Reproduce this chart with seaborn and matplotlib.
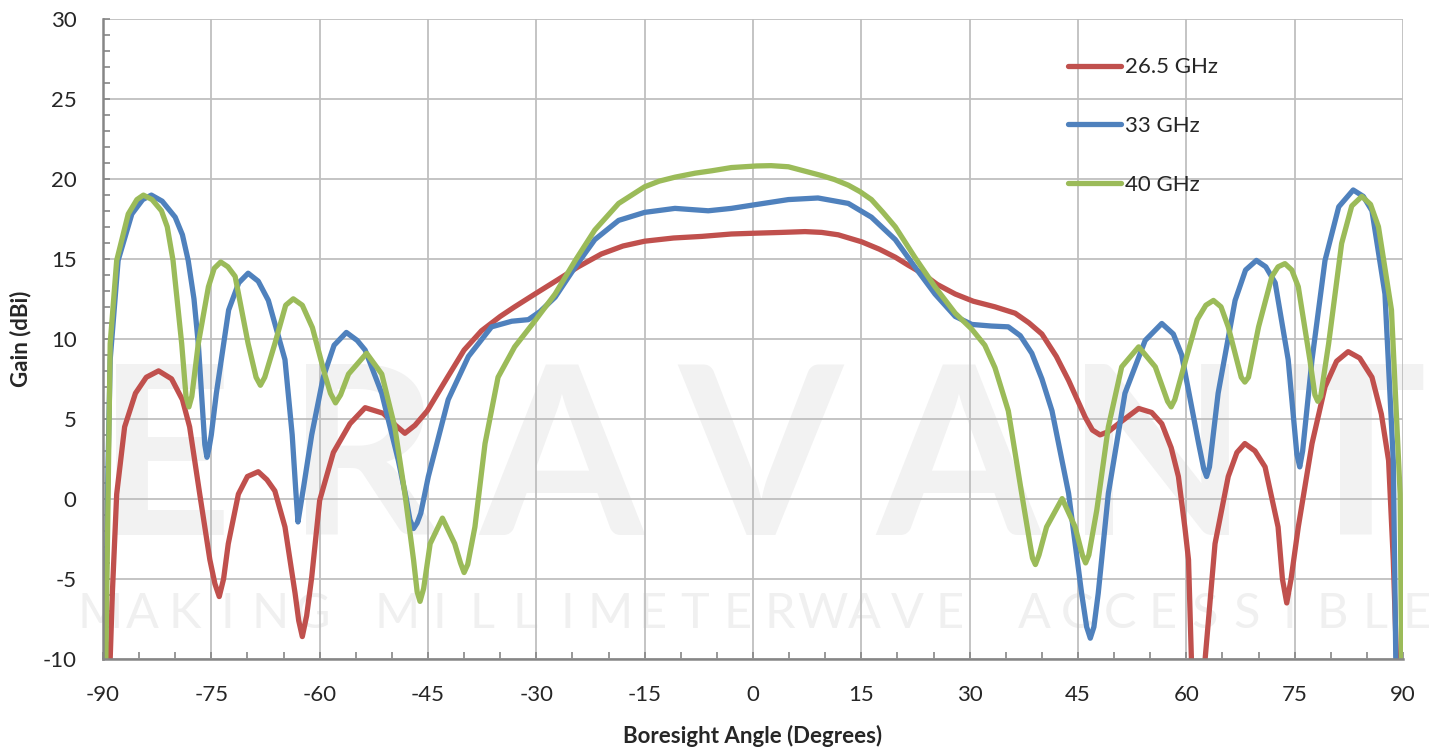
import numpy as np
import pandas as pd
import matplotlib
matplotlib.use('Agg')
import matplotlib.pyplot as plt
import seaborn as sns
from matplotlib.ticker import MultipleLocator

# Gain patterns (angle in degrees, gain in dBi)
angle_265 = [-90, -89.0, -88.7, -88.1, -87.0, -85.5, -84.0, -82.3, -80.5, -79.0, -78.0, -76.6,
             -75.2, -74.5, -73.9, -73.3, -72.65, -71.25, -70.0, -68.5, -67.3, -66.2, -64.8, -63.4,
             -62.9, -62.4, -61.8, -61.1, -60.0, -58.1, -55.8, -53.7, -51.2, -49.5, -48.2, -46.8,
             -45.1, -42.3, -40.0, -37.6, -35.0, -33.0, -30.2, -27.0, -24.2, -21.0, -18.0, -15.0,
             -11.0, -7.1, -3.0, 0.3, 4.0, 7.2, 9.5, 11.8, 15.05, 17.5, 19.7, 21.5, 23.4, 25.5,
             28.0, 30.5, 33.5, 36.3, 38.2, 40.0, 42.0, 43.7, 46.0, 47.0, 48.05, 49.2, 50.6, 53.4,
             55.2, 56.6, 57.9, 58.9, 59.8, 60.3, 60.7, 61.6, 62.6, 63.97, 65.8, 67.0, 68.1, 69.5,
             70.9, 72.7, 73.3, 73.9, 74.5, 75.5, 77.4, 79.2, 80.8, 82.4, 84.0, 85.7, 87.0, 88.0,
             88.65, 89.1, 90]
gain_265 = [-25, -10, -5.9, 0.3, 4.5, 6.6, 7.6, 8.0, 7.5, 6.2, 4.5, 0.3,
            -3.8, -5.3, -6.1, -5.0, -2.8, 0.3, 1.4, 1.7, 1.2, 0.5, -1.75, -5.9,
            -7.6, -8.6, -7.3, -4.9, -0.1, 2.9, 4.7, 5.7, 5.35, 4.6, 4.1, 4.6,
            5.5, 7.6, 9.3, 10.5, 11.4, 12.0, 12.8, 13.7, 14.5, 15.3, 15.8, 16.1,
            16.3, 16.4, 16.55, 16.6, 16.65, 16.7, 16.65, 16.5, 16.06, 15.6, 15.1, 14.6, 14.1, 13.4,
            12.8, 12.35, 12.0, 11.6, 11.0, 10.3, 8.9, 7.4, 5.1, 4.3, 4.0, 4.2, 4.7, 5.65,
            5.4, 4.7, 3.2, 1.4, -1.8, -3.8, -10, -13, -10, -2.8, 1.4, 2.9, 3.46, 3.0,
            2.0, -1.75, -5.0, -6.5, -5.0, -1.75, 3.46, 7.0, 8.6, 9.2, 8.8, 7.6, 5.3, 2.4,
            -3.8, -10, -25]

angle_33 = [-90, -89.7, -89.3, -89.0, -87.9, -86.0, -84.5, -83.3, -81.8, -80.0, -79.0, -78.2,
            -77.4, -76.8, -76.2, -75.9, -75.6, -75.3, -75.0, -74.3, -72.6, -71.2, -69.9, -68.5,
            -67.1, -64.8, -63.8, -63.3, -63.0, -62.7, -62.2, -61.1, -59.5, -58.0, -56.3, -54.8,
            -53.7, -51.4, -49.1, -48.0, -47.5, -47.0, -46.5, -46.0, -44.95, -42.2, -39.4, -36.2,
            -33.4, -31.1, -29.5, -27.4, -24.6, -21.9, -18.6, -15.0, -10.8, -6.2, -3.0, 0.0, 4.9,
            9.0, 13.2, 16.4, 19.7, 22.4, 25.2, 28.0, 30.3, 33.0, 35.35, 37.0, 38.6, 40.0, 41.4,
            43.7, 45.5, 46.2, 46.7, 47.2, 47.8, 49.2, 51.5, 54.3, 56.6, 58.2, 59.35, 60.5, 61.7,
            62.4, 62.8, 63.2, 64.4, 66.75, 68.2, 69.7, 71.0, 72.3, 74.1, 75.3, 75.7, 76.1, 77.4,
            79.2, 81.1, 83.1, 84.5, 85.7, 87.5, 88.65, 89.0, 90]
gain_33 = [-25, -10, 2.0, 8.7, 14.9, 17.8, 18.7, 18.98, 18.6, 17.6, 16.5, 14.9,
           12.5, 9.7, 5.5, 3.4, 2.6, 3.2, 4.0, 6.6, 11.8, 13.5, 14.1, 13.6,
           12.4, 8.7, 4.0, 0.5, -1.44, -0.6, 0.8, 4.0, 7.6, 9.6, 10.4, 9.9,
           9.3, 6.6, 2.4, 0.0, -1.3, -1.85, -1.5, -0.9, 1.4, 6.2, 8.9, 10.75,
           11.1, 11.2, 11.7, 12.6, 14.5, 16.2, 17.4, 17.9, 18.15, 18.0, 18.15, 18.36, 18.7,
           18.8, 18.46, 17.6, 16.2, 14.5, 12.8, 11.4, 10.9, 10.8, 10.75, 10.2, 9.1, 7.5, 5.5,
           0.34, -5.9, -8.0, -8.7, -8.0, -5.9, 0.34, 6.6, 9.9, 10.96, 10.3, 9.0, 6.3, 3.46,
           1.9, 1.4, 2.0, 6.6, 12.4, 14.3, 14.9, 14.5, 13.5, 8.7, 2.8, 2.0, 3.0, 8.7,
           14.9, 18.25, 19.3, 18.9, 18.0, 12.8, 2.4, -10, -25]

angle_40 = [-90, -89.6, -89.0, -88.1, -86.5, -85.3, -84.4, -83.2, -81.9, -81.1, -80.3, -79.1,
            -78.5, -78.1, -77.7, -76.8, -75.4, -74.6, -73.7, -72.7, -71.7, -69.9, -68.8, -68.2,
            -67.6, -66.2, -64.7, -63.65, -62.4, -61.0, -59.3, -58.5, -57.8, -57.1, -56.0, -53.5,
            -51.4, -49.6, -48.2, -47.0, -46.5, -46.1, -45.6, -44.7, -43.0, -41.3, -40.5, -40.0,
            -39.5, -38.5, -37.1, -35.3, -33.0, -30.4, -27.4, -24.6, -21.9, -18.6, -15.0, -13.0,
            -10.8, -8.0, -5.7, -3.0, 0.5, 2.5, 4.9, 7.0, 9.5, 11.3, 13.2, 14.8, 16.4, 18.0, 19.7,
            22.4, 25.2, 28.0, 30.3, 32.1, 33.5, 35.35, 37.2, 38.35, 38.7, 39.1, 39.6, 40.65,
            42.8, 44.6, 45.6, 46.05, 46.5, 47.6, 49.2, 51.05, 53.4, 55.7, 57.4, 57.9, 58.4,
            59.8, 61.5, 62.7, 63.75, 64.8, 65.8, 67.6, 68.1, 68.6, 70.0, 71.85, 72.7, 73.65,
            74.6, 75.5, 77.1, 77.8, 78.2, 78.6, 79.7, 81.5, 82.9, 84.3, 85.5, 86.6, 88.4, 89.6,
            89.8, 90]
gain_40 = [-25, -10, 9.7, 14.9, 17.8, 18.7, 18.98, 18.7, 18.0, 17.0, 14.9, 9.7,
           6.4, 5.75, 6.4, 9.7, 13.25, 14.4, 14.8, 14.5, 13.9, 9.7, 7.6, 7.1,
           7.6, 9.7, 12.1, 12.5, 12.1, 10.7, 7.8, 6.6, 6.0, 6.5, 7.8, 9.1,
           7.8, 4.5, 0.34, -3.8, -5.8, -6.4, -5.6, -2.8, -1.2, -2.8, -4.0, -4.6,
           -4.1, -1.75, 3.46, 7.6, 9.5, 11.0, 12.8, 14.9, 16.8, 18.46, 19.5, 19.85,
           20.1, 20.35, 20.5, 20.7, 20.8, 20.82, 20.75, 20.5, 20.2, 19.95, 19.6, 19.2, 18.7, 17.9, 17.0,
           15.1, 13.25, 11.6, 10.6, 9.6, 8.2, 5.5, 0.34, -2.8, -3.7, -4.1, -3.5, -1.75,
           0.02, -1.75, -3.5, -4.0, -3.5, -0.7, 4.5, 8.25, 9.5, 8.25, 6.1, 5.75, 6.2,
           8.5, 11.2, 12.1, 12.4, 12.0, 10.75, 7.6, 7.3, 7.6, 10.75, 13.9, 14.5, 14.7,
           14.3, 13.25, 8.7, 6.5, 6.1, 6.4, 9.7, 15.96, 18.3, 18.9, 18.4, 17.0, 11.8, 0.3,
           -10, -25]

freq_labels = ['26.5 GHz', '33 GHz', '40 GHz']
line_colors = ['#C0504D', '#4F81BD', '#9BBB59']

frames = []
for label, ang, gain in zip(freq_labels, [angle_265, angle_33, angle_40], [gain_265, gain_33, gain_40]):
    frames.append(pd.DataFrame({'angle': ang, 'gain': gain, 'freq': label}))
df = pd.concat(frames, ignore_index=True)

sns.set_style('white')
plt.rcParams['font.family'] = ['Lato', 'DejaVu Sans']
plt.rcParams['axes.unicode_minus'] = False

fig = plt.figure(figsize=(14.34, 7.48), dpi=100)
ax = fig.add_axes([0.0718, 0.119, 0.9066, 0.856])
ax.patch.set_visible(False)

# faint company watermark behind the plot
wm_big = 'ERAVANT'
for ch, xc in zip(wm_big, np.linspace(165, 1355, len(wm_big))):
    fig.text(xc / 1434, 1 - 535 / 748, ch, fontsize=170, color='#F2F2F2',
             fontweight='bold', ha='center', va='baseline', zorder=-5)
wm_small = 'MAKING MILLIMETERWAVE ACCESSIBLE'
for ch, xc in zip(wm_small, np.linspace(100, 1417, len(wm_small))):
    fig.text(xc / 1434, 1 - 628 / 748, ch, fontsize=35, color='#F0F0F0',
             ha='center', va='baseline', zorder=-5)

sns.lineplot(data=df, x='angle', y='gain', hue='freq', palette=line_colors,
             estimator=None, sort=False, linewidth=3.8, ax=ax)
for line in ax.get_lines():
    line.set_solid_joinstyle('round')
    line.set_solid_capstyle('round')

ax.set_xlim(-90, 90)
ax.set_ylim(-10, 30)
ax.xaxis.set_major_locator(MultipleLocator(15))
ax.xaxis.set_minor_locator(MultipleLocator(5))
ax.yaxis.set_major_locator(MultipleLocator(5))
ax.yaxis.set_minor_locator(MultipleLocator(1))
ax.set_axisbelow(True)
ax.grid(True, which='major', color='#BFBFBF', linewidth=1.3)
ax.tick_params(which='both', direction='in', color='#868686', length=5, width=1.2,
               labelsize=16, bottom=True, left=True)
ax.tick_params(axis='x', pad=19)
ax.tick_params(axis='y', pad=19)
for side in ['top', 'right']:
    ax.spines[side].set_visible(False)
for side in ['left', 'bottom']:
    ax.spines[side].set_color('#868686')
    ax.spines[side].set_linewidth(1.8)

ax.set_xlabel('Boresight Angle (Degrees)', fontsize=16, fontweight='bold', labelpad=14)
ax.set_ylabel('Gain (dBi)', fontsize=16, fontweight='bold', labelpad=8)

ax.legend(loc='center left', bbox_to_anchor=(0.727, 0.832), frameon=False, fontsize=16,
          handlelength=2.4, handletextpad=0.15, labelspacing=1.75)

fig.savefig('out.png', dpi=100, facecolor='white')
